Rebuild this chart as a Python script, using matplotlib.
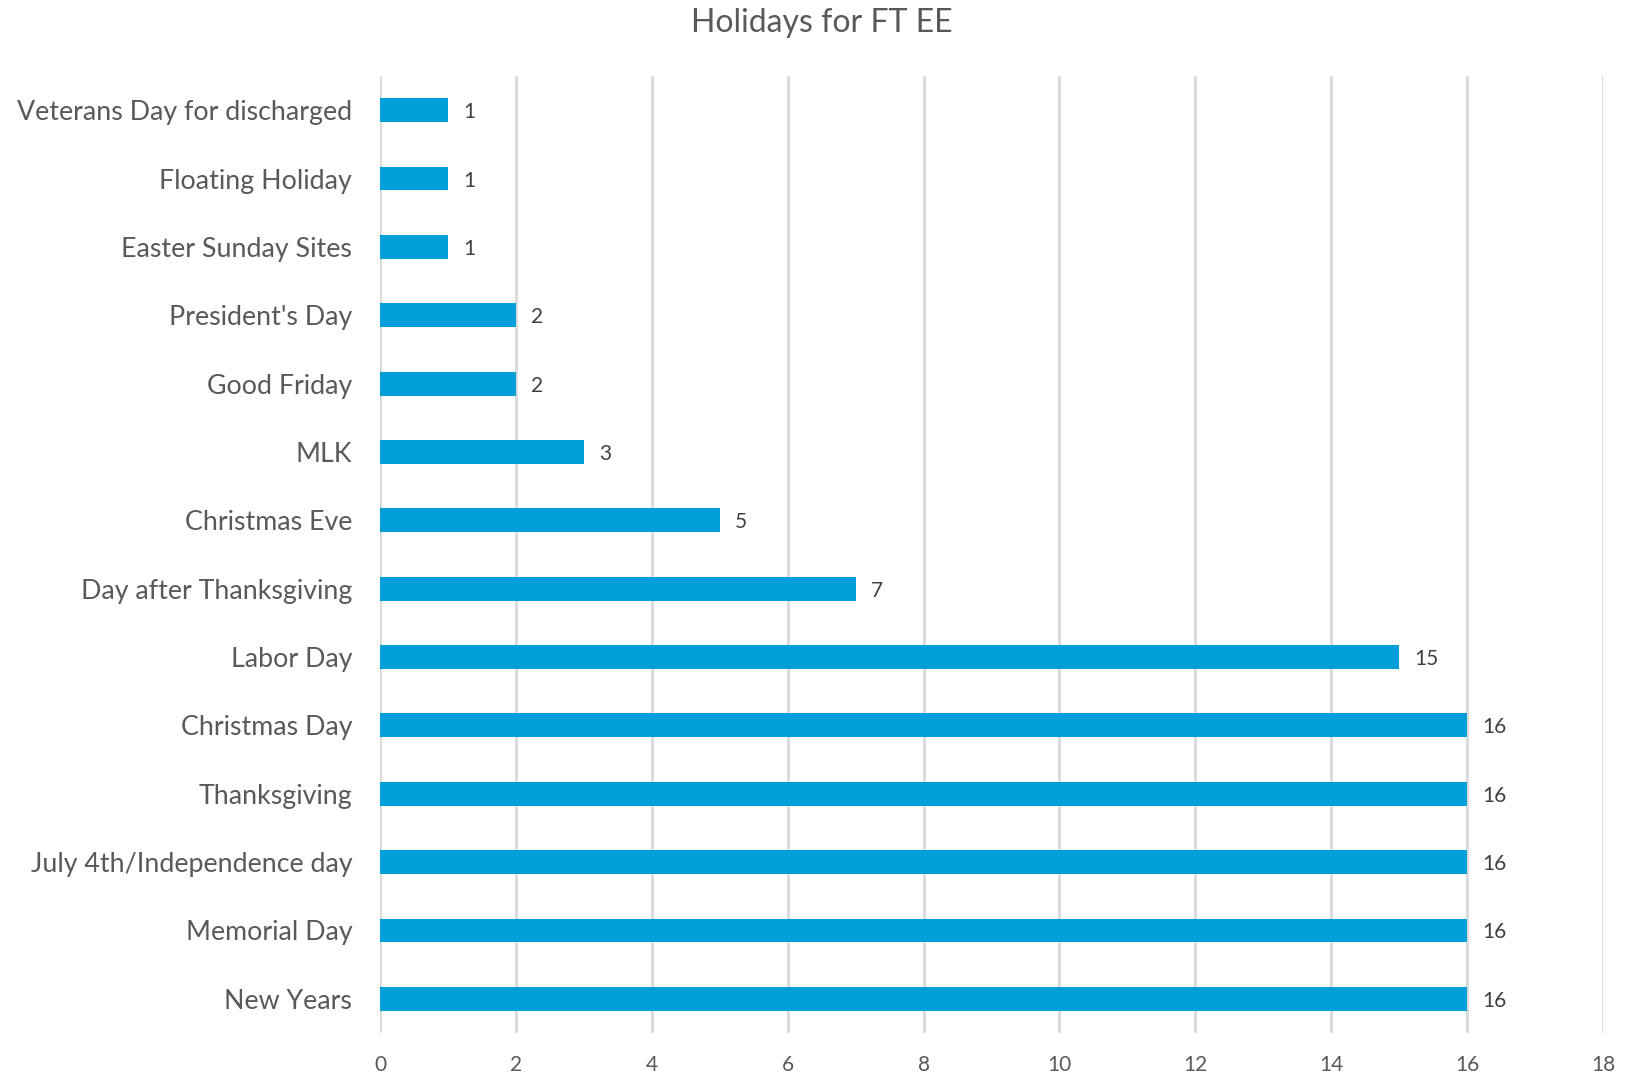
import matplotlib
matplotlib.use("Agg")
import matplotlib.pyplot as plt

categories = ["New Years", "Memorial Day", "July 4th/Independence day", "Thanksgiving",
              "Christmas Day", "Labor Day", "Day after Thanksgiving", "Christmas Eve",
              "MLK", "Good Friday", "President's Day", "Easter Sunday Sites",
              "Floating Holiday", "Veterans Day for discharged"]
values = [16, 16, 16, 16, 16, 15, 7, 5, 3, 2, 2, 1, 1, 1]
x_ticks = [0, 2, 4, 6, 8, 10, 12, 14, 16, 18]

plt.rcParams['font.family'] = ['Lato', 'DejaVu Sans']
text_color = "#595959"

fig = plt.figure(figsize=(16.37, 10.75), dpi=100)
ax = fig.add_axes([380/1637, 1 - 1033/1075, (1603-380)/1637, (1033-76)/1075])

y = list(range(len(categories)))
ax.barh(y, values, height=0.35, color="#009FD9", zorder=3)
for yi, v in zip(y, values):
    ax.text(v + 0.22, yi, str(v), va="center_baseline", ha="left", fontsize=15, color="#404040")

ax.set_xlim(0, 18)
ax.set_ylim(-0.5, len(categories) - 0.5)
ax.set_xticks(x_ticks)
ax.set_xticklabels([str(t) for t in x_ticks])
ax.set_yticks(y)
ax.set_yticklabels(categories, va="center_baseline")
ax.tick_params(axis="y", length=0, pad=20, labelsize=19.3, labelcolor=text_color)
ax.tick_params(axis="x", length=0, pad=16, labelsize=15, labelcolor=text_color)
ax.grid(axis="x", color="#D9D9D9", linewidth=2, zorder=0)
for s in ax.spines.values():
    s.set_visible(False)

fig.text(822/1637, 1 - 23/1075, "Holidays for FT EE", ha="center", va="center",
         fontsize=23, color=text_color)

fig.savefig("out.png", dpi=100)
